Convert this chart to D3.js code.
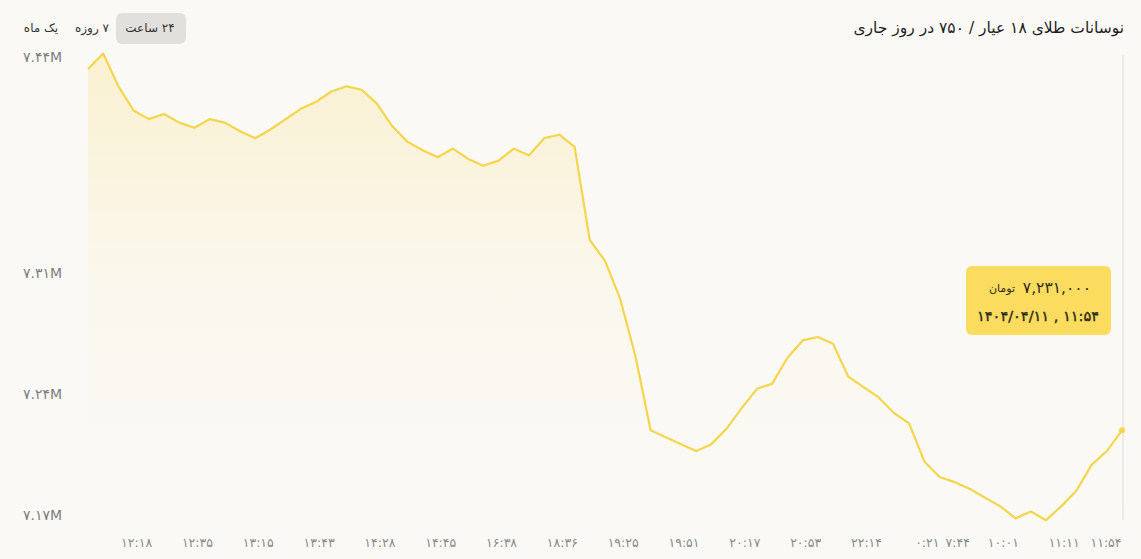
<!DOCTYPE html>
<html>
<head>
<meta charset="utf-8">
<script src="https://cdn.jsdelivr.net/npm/d3@7"></script>
<style>
    html, body { margin: 0; padding: 0; background: #faf9f6; }
    svg { display: block; font-family: "DejaVu Sans", sans-serif; }
</style>
</head>
<body>
<div id="visual"></div>
<script>

// price of 18k gold (toman) for each sample of the current day
var values = [
    7428000, 7437000, 7418000, 7404000, 7399000, 7402000, 7397000, 7394000, 7399000, 7397000,
    7392000, 7388000, 7393000, 7399000, 7405000, 7409000, 7415000, 7418000, 7416000, 7408000,
    7395000, 7386000, 7381000, 7377000, 7382000, 7376000, 7372000, 7375000, 7382000, 7378000,
    7388000, 7390000, 7383000, 7329000, 7317000, 7295000, 7262000, 7219000, 7215000, 7211000,
    7207000, 7211000, 7220000, 7232000, 7243000, 7246000, 7261000, 7271000, 7273000, 7269000,
    7250000, 7244000, 7238000, 7229000, 7223000, 7201000, 7192000, 7189000, 7185000, 7180000,
    7175000, 7168000, 7172000, 7167000, 7175000, 7184000, 7199000, 7207000, 7219000
];

// x axis: which sample carries which time label
var xTickIndex = [3, 7, 11, 15, 19, 23, 27, 31, 35, 39, 43, 47, 51, 55, 57, 60, 64, 68];
var xTickLabels = ["۱۲:۱۸", "۱۲:۳۵", "۱۳:۱۵", "۱۳:۴۳", "۱۴:۲۸", "۱۴:۴۵", "۱۶:۳۸", "۱۸:۳۶", "۱۹:۲۵",
    "۱۹:۵۱", "۲۰:۱۷", "۲۰:۵۳", "۲۲:۱۴", "۰:۲۱", "۷:۴۴", "۱۰:۰۱", "۱۱:۱۱", "۱۱:۵۴"];

var yTickValues = [7170000, 7240000, 7310000, 7435000];

var periodLabels = ["یک ماه", "۷ روزه", "۲۴ ساعت"];
var titleText = "نوسانات طلای ۱۸ عیار / ۷۵۰ در روز جاری";
var tipPrice = "۷,۲۳۱,۰۰۰";
var tipUnit = "تومان";
var tipDate = "۱۴۰۴/۰۴/۱۱ , ۱۱:۵۴";

var w = 1141, h = 559;
var lineColor = "#f5d54c";

function toPersian(s) {
    return String(s).replace(/[0-9]/g, function (c) {
        return "۰۱۲۳۴۵۶۷۸۹"[+c];
    });
}

function render() {

    var svg = d3.select("#visual").append("svg")
        .attr("width", w)
        .attr("height", h);

    svg.append("rect")
        .attr("width", w)
        .attr("height", h)
        .attr("fill", "#faf9f6");

    var x = d3.scaleLinear()
        .domain([0, values.length - 1])
        .range([88, 1122]);

    var y = d3.scaleLinear()
        .domain([7170000, 7310000])
        .range([515, 273]);

    /* gradient under the line */
    var grad = svg.append("defs").append("linearGradient")
        .attr("id", "areaFill")
        .attr("gradientUnits", "userSpaceOnUse")
        .attr("x1", 0).attr("x2", 0)
        .attr("y1", y(7437000)).attr("y2", y(7170000));
    grad.append("stop").attr("offset", "0%").attr("stop-color", "#fbd85a").attr("stop-opacity", 0.24);
    grad.append("stop").attr("offset", "50%").attr("stop-color", "#fbd85a").attr("stop-opacity", 0.06);
    grad.append("stop").attr("offset", "100%").attr("stop-color", "#fbd85a").attr("stop-opacity", 0);

    var area = d3.area()
        .x(function (d, i) { return x(i); })
        .y0(y(7165000))
        .y1(function (d) { return y(d); });

    var line = d3.line()
        .x(function (d, i) { return x(i); })
        .y(function (d) { return y(d); });

    svg.append("path")
        .datum(values)
        .attr("d", area)
        .attr("fill", "url(#areaFill)");

    // hover crosshair on the last sample
    var last = values.length - 1;
    svg.append("line")
        .attr("x1", x(last) + 1).attr("x2", x(last) + 1)
        .attr("y1", 55).attr("y2", 520)
        .attr("stroke", "#dddcd8")
        .attr("stroke-width", 1);

    svg.append("path")
        .datum(values)
        .attr("d", line)
        .attr("fill", "none")
        .attr("stroke", lineColor)
        .attr("stroke-width", 2.2)
        .attr("stroke-linejoin", "round");

    svg.append("circle")
        .attr("cx", x(last))
        .attr("cy", y(values[last]))
        .attr("r", 3)
        .attr("fill", lineColor);

    /* y axis labels */
    svg.selectAll("text.ytick")
        .data(yTickValues)
        .enter().append("text")
        .attr("class", "ytick")
        .attr("x", 23)
        .attr("y", function (d) { return y(d); })
        .attr("dy", "0.35em")
        .attr("font-size", 14)
        .attr("letter-spacing", 1)
        .attr("fill", "#7d7d7d")
        .text(function (d) {
            return toPersian((Math.round(d / 1e4) / 100).toFixed(2)) + "M";
        });

    /* x axis labels */
    svg.selectAll("text.xtick")
        .data(xTickIndex)
        .enter().append("text")
        .attr("class", "xtick")
        .attr("x", function (d) { return Math.min(x(d) + 3, 1106); })
        .attr("y", 543)
        .attr("dy", "0.35em")
        .attr("text-anchor", "middle")
        .attr("font-size", 12.5)
        .attr("fill", "#8a8a8a")
        .text(function (d, i) { return xTickLabels[i]; });

    /* title */
    svg.append("text")
        .attr("x", 1124)
        .attr("y", 28)
        .attr("dy", "0.35em")
        .attr("direction", "rtl")
        .attr("text-anchor", "start")
        .attr("font-size", 15.5)
        .attr("font-weight", 500)
        .attr("fill", "#1e1e1e")
        .text(titleText);

    /* period switch */
    var btnX = [41, 92, 150];
    svg.append("rect")
        .attr("x", 116).attr("y", 13)
        .attr("width", 70).attr("height", 31)
        .attr("rx", 6)
        .attr("fill", "#e1e0dd");

    svg.selectAll("text.period")
        .data(periodLabels)
        .enter().append("text")
        .attr("class", "period")
        .attr("x", function (d, i) { return btnX[i]; })
        .attr("y", 28)
        .attr("dy", "0.35em")
        .attr("direction", "rtl")
        .attr("text-anchor", "middle")
        .attr("font-size", 12)
        .attr("fill", "#333")
        .text(function (d) { return d; });

    /* tooltip */
    var tip = svg.append("g");
    tip.append("rect")
        .attr("x", 966).attr("y", 266)
        .attr("width", 145).attr("height", 69)
        .attr("rx", 6)
        .attr("fill", "#fbdc5f");

    tip.append("text")
        .attr("x", 1091)
        .attr("y", 288)
        .attr("dy", "0.35em")
        .attr("text-anchor", "end")
        .attr("font-size", 15.5)
        .attr("fill", "#2d2a1c")
        .text(tipPrice);

    tip.append("text")
        .attr("x", 1015)
        .attr("y", 288)
        .attr("dy", "0.35em")
        .attr("text-anchor", "end")
        .attr("font-size", 11)
        .attr("fill", "#2d2a1c")
        .text(tipUnit);

    tip.append("text")
        .attr("x", 1038)
        .attr("y", 316)
        .attr("dy", "0.35em")
        .attr("text-anchor", "middle")
        .attr("font-size", 14.5)
        .attr("fill", "#2d2a1c")
        .attr("stroke", "#2d2a1c")
        .attr("stroke-width", 0.4)
        .text(tipDate);
}

render();

</script>
</body>
</html>
